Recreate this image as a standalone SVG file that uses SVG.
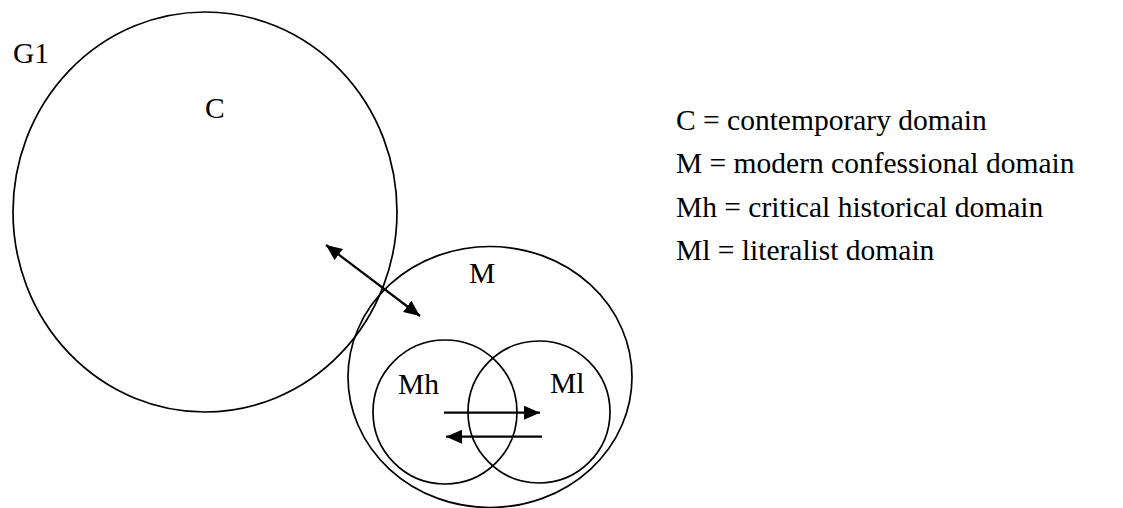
<svg xmlns="http://www.w3.org/2000/svg" width="1123" height="508" viewBox="0 0 1123 508">
<style>
.sh{fill:none;stroke:#000;stroke-width:1.7}
.ar{fill:none;stroke:#000;stroke-width:2.2}
text{font-family:"Liberation Serif","Times New Roman",serif;font-size:29.5px;fill:#000}
</style>
<defs>
<marker id="ah" markerUnits="userSpaceOnUse" markerWidth="16" markerHeight="14" refX="16" refY="7" orient="auto-start-reverse">
<path d="M0,0 L16,7 L0,14 z" fill="#000"/>
</marker>
</defs>
<rect width="1123" height="508" fill="#fff"/>
<text x="13" y="63">G1</text>
<g id="C"><ellipse class="sh" cx="205" cy="212" rx="192" ry="200"/><text x="205" y="118">C</text></g>
<g id="M"><ellipse class="sh" cx="490" cy="377" rx="142" ry="130.5"/><text x="469" y="283">M</text></g>
<g id="Mh"><circle class="sh" cx="445" cy="412" r="72"/><text x="398" y="394">Mh</text></g>
<g id="Ml"><circle class="sh" cx="539" cy="412" r="71"/><text x="550" y="393">Ml</text></g>
<g id="connectors">
<line class="ar" x1="326" y1="245" x2="420" y2="316" marker-start="url(#ah)" marker-end="url(#ah)"/>
<line class="ar" x1="444" y1="412.7" x2="540" y2="412.7" marker-end="url(#ah)"/>
<line class="ar" x1="542" y1="436.7" x2="446" y2="436.7" marker-end="url(#ah)"/>
</g>
<g id="legend">
<text x="676" y="129.5">C = contemporary domain</text>
<text x="676" y="173">M = modern confessional domain</text>
<text x="676" y="216.5">Mh = critical historical domain</text>
<text x="676" y="260">Ml = literalist domain</text>
</g>
</svg>
